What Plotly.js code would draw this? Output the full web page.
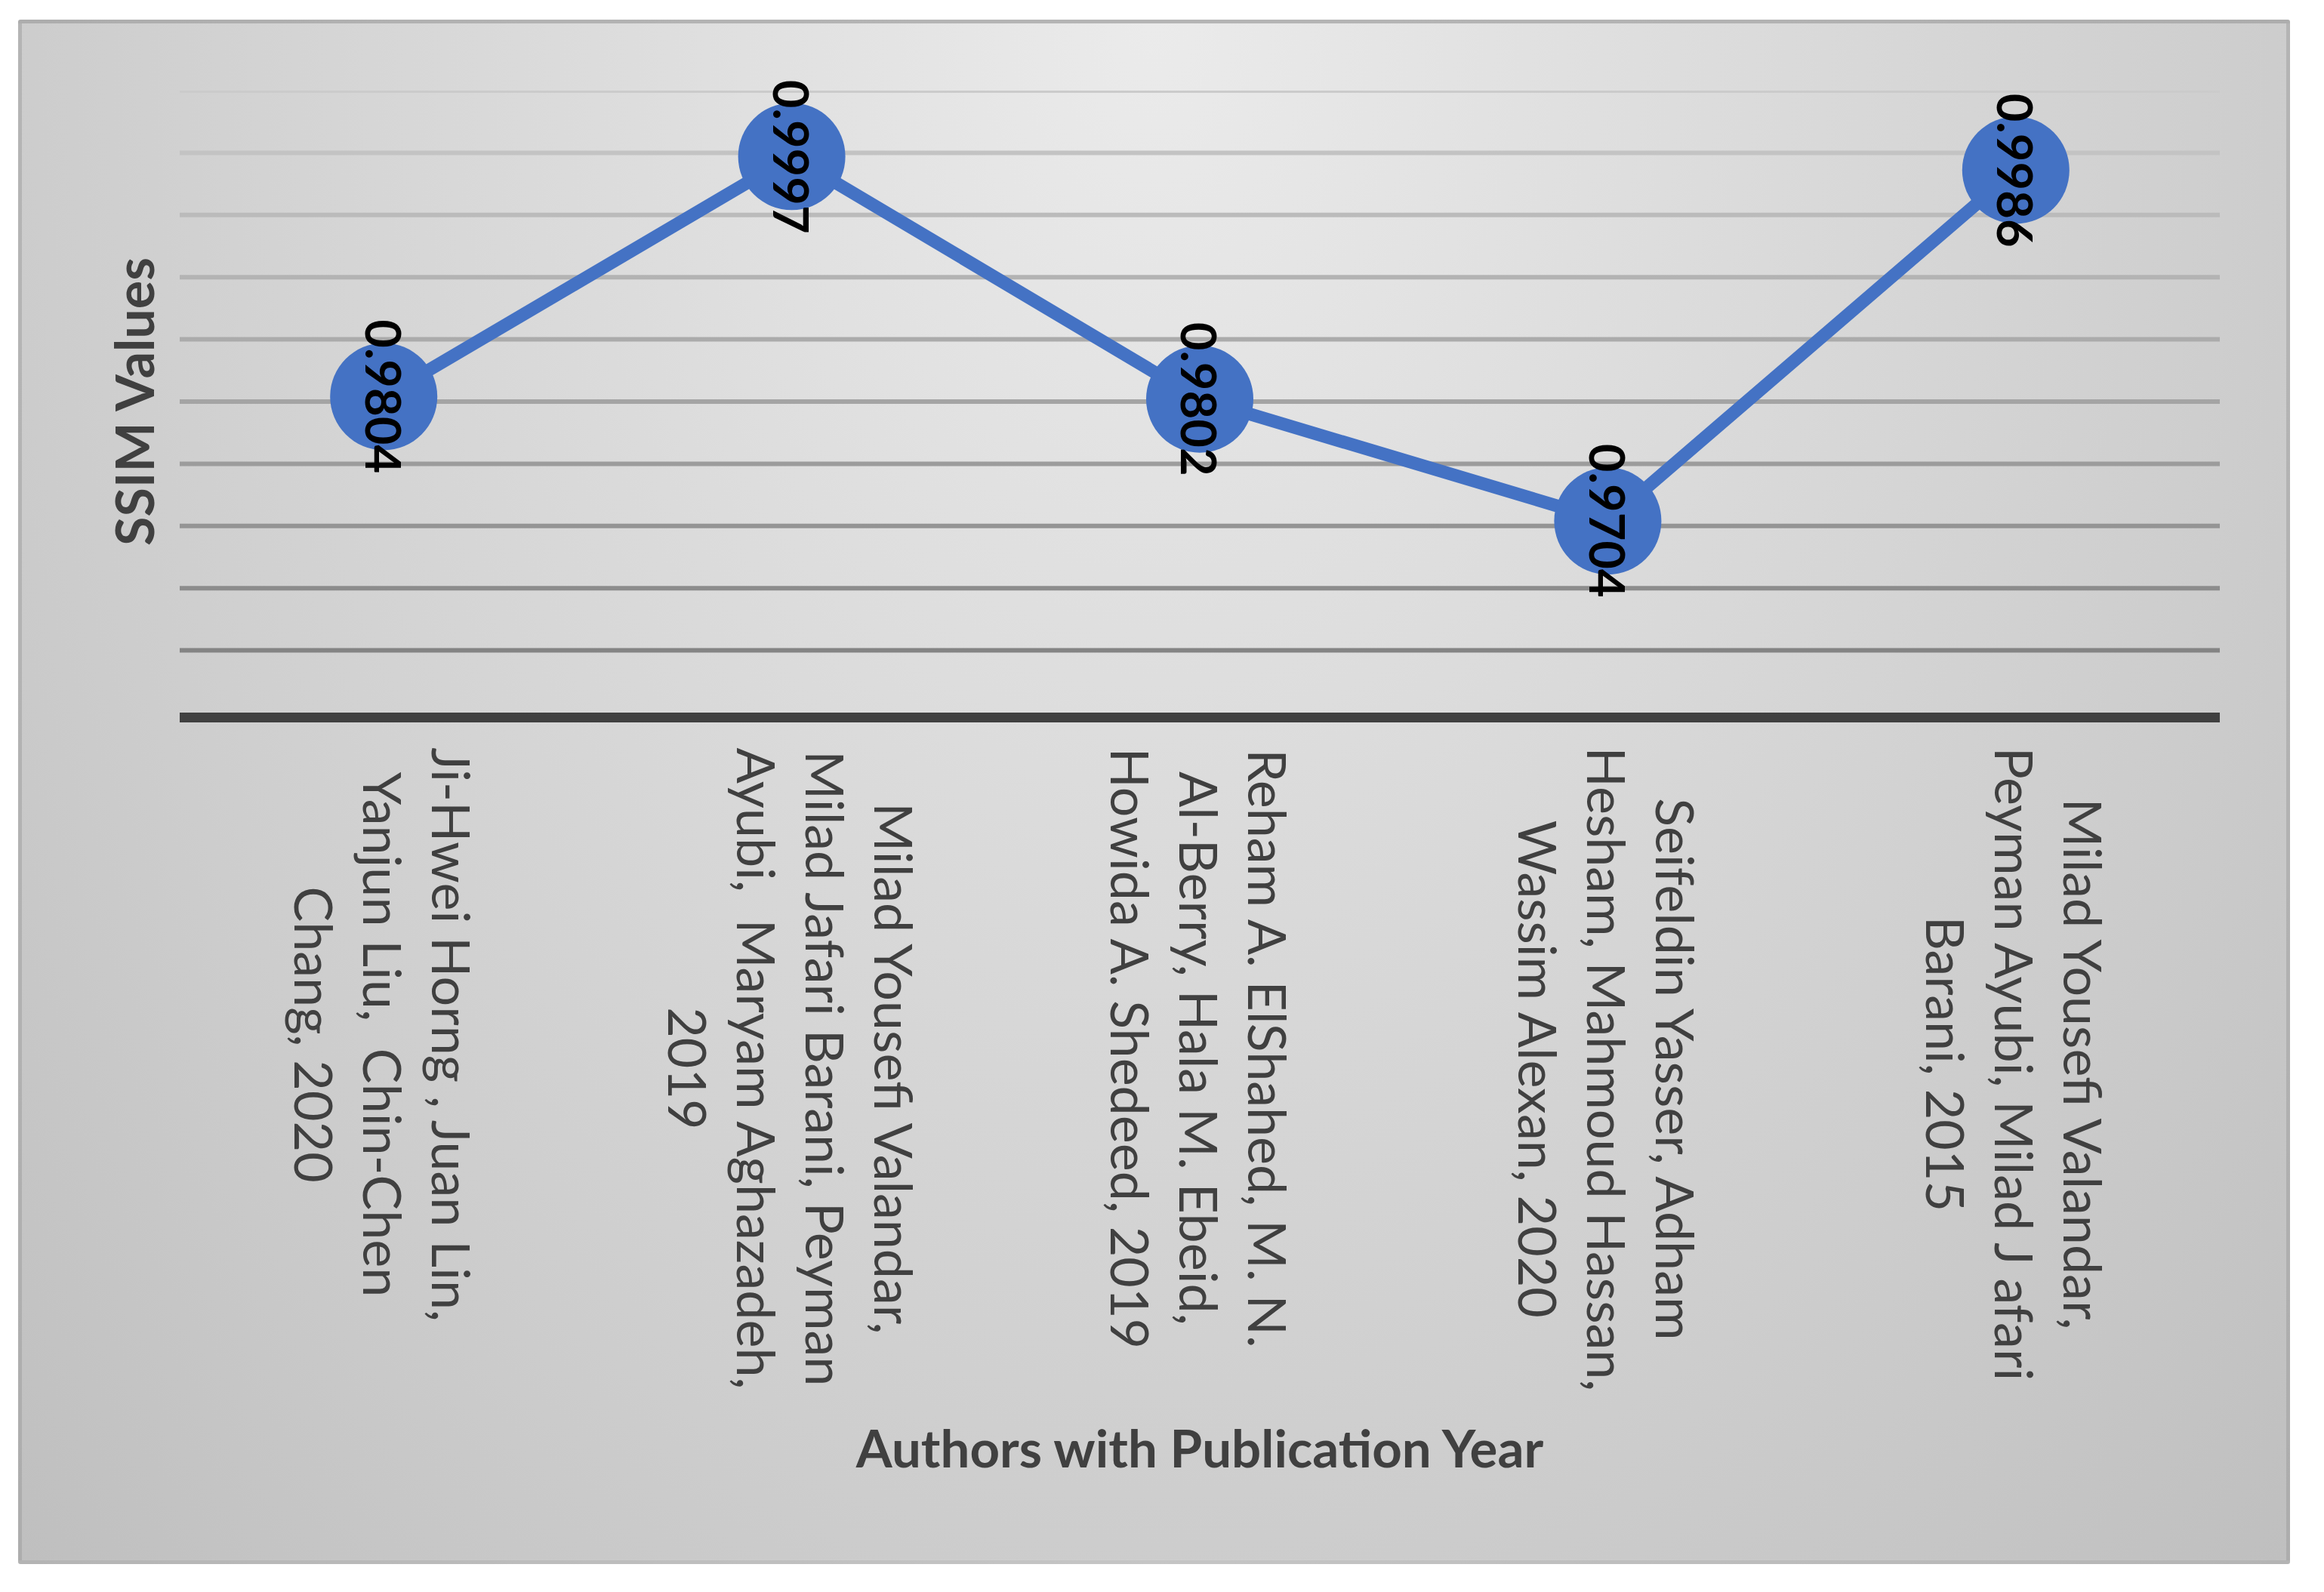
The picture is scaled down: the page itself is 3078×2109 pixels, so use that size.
<!DOCTYPE html>
<html>
<head>
<meta charset="utf-8">
<script src="https://cdn.plot.ly/plotly-3.0.1.min.js"></script>
<style>
  body { margin: 0; background: #ffffff; }
  #chart {
    position: absolute;
    left: 24px;
    top: 26px;
    width: 3009px;
    height: 2046px;
    box-sizing: border-box;
    border: 5px solid rgba(150, 150, 150, 0.45);
    border-radius: 3px;
    background: radial-gradient(ellipse farthest-corner at 50% 0%, #ebebeb 0%, #dcdcdc 35%, #cdcdcd 70%, #bfbfbf 100%);
  }
</style>
</head>
<body>
<div id="chart"></div>
<script>
var authors = [
  "Ji-Hwei Horng , Juan Lin,<br>Yanjun Liu,  Chin-Chen<br>Chang, 2020",
  "Milad Yousefi Valandar,<br>Milad Jafari Barani, Peyman<br>Ayubi,  Maryam Aghazadeh,<br>2019",
  "Reham A. ElShahed, M. N.<br>Al-Berry, Hala M. Ebeid,<br>Howida A. Shedeed, 2019",
  "Seifeldin Yasser, Adham<br>Hesham, Mahmoud Hassan,<br>Wassim Alexan, 2020",
  "Milad Yousefi Valandar,<br>Peyman Ayubi, Milad J afari<br>Barani, 2015"
];

var ssimValues = [0.9804, 0.9997, 0.9802, 0.9704, 0.9986];

var gridValues = [0.960, 0.965, 0.970, 0.975, 0.980, 0.985, 0.990, 0.995, 1.000, 1.005];

var trace = {
    x: authors,
    y: ssimValues,
    type: "scatter",
    mode: "lines+markers",
    line: {color: "#4472C4", width: 17},
    marker: {color: "#4472C4", size: 142},
    hoverinfo: "skip"
};

// gridlines get darker towards the bottom, like the original
var shapes = gridValues.map(function(v, i) {
    var c = Math.round(0x84 + (0xcb - 0x84) * i / (gridValues.length - 1));
    return {
        type: "line", xref: "paper", x0: 0, x1: 1, yref: "y", y0: v, y1: v,
        line: {color: "rgb(" + c + "," + c + "," + c + ")", width: 6},
        layer: "below"
    };
});

var valueLabels = ssimValues.map(function(v, i) {
    return {
        x: authors[i], y: v, xref: "x", yref: "y",
        text: v.toFixed(4), textangle: 90, showarrow: false,
        xanchor: "center", yanchor: "middle",
        font: {family: "Lato", size: 65, color: "#000000", weight: "bold"}
    };
});

var authorLabels = authors.map(function(a) {
    return {
        x: a, y: 0, xref: "x", yref: "paper",
        text: a, textangle: 90, showarrow: false, align: "center",
        xanchor: "center", yanchor: "top", yshift: -44,
        font: {family: "Lato", size: 70, color: "#404040"}
    };
});

var layout = {
    width: 2999,
    height: 2036,
    margin: {l: 209, r: 88, t: 89, b: 1123},
    paper_bgcolor: "rgba(0,0,0,0)",
    plot_bgcolor: "rgba(0,0,0,0)",
    showlegend: false,
    font: {family: "Lato", color: "#404040"},
    xaxis: {
        type: "category",
        range: [-0.5, authors.length - 0.5],
        showticklabels: false,
        showgrid: false,
        ticks: "",
        showline: true,
        linecolor: "#404040",
        linewidth: 13,
        title: {text: "Authors with Publication Year", standoff: 945,
                font: {family: "Lato", size: 69, color: "#404040", weight: "bold"}}
    },
    yaxis: {
        range: [0.955, 1.005],
        showticklabels: false,
        showgrid: false,
        zeroline: false,
        ticks: "",
        title: {text: "SSIM Values", standoff: 9,
                font: {family: "Lato", size: 70, color: "#404040", weight: "bold"}}
    },
    shapes: shapes,
    annotations: valueLabels.concat(authorLabels)
};

Plotly.newPlot("chart", [trace], layout, {staticPlot: true});
</script>
</body>
</html>
